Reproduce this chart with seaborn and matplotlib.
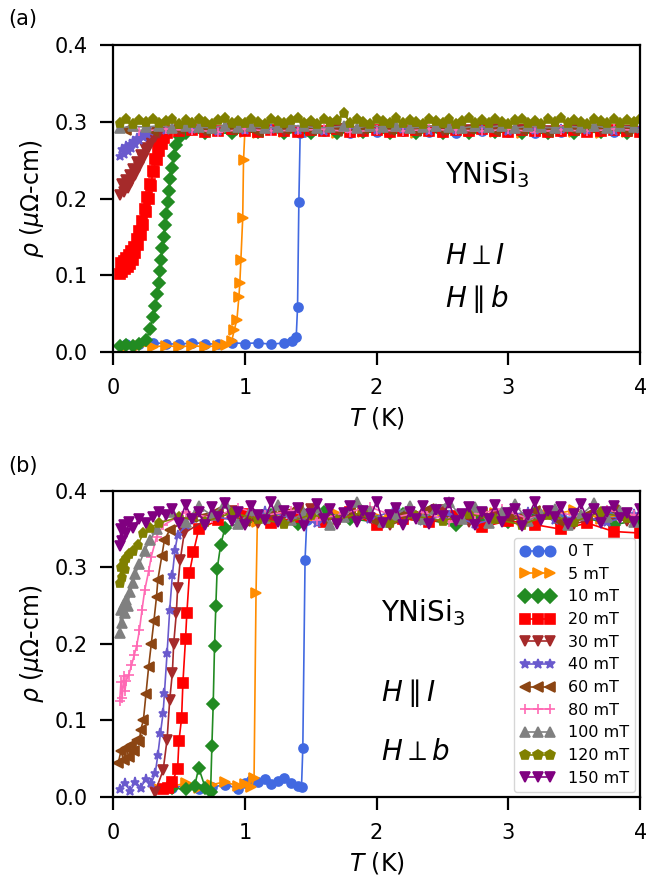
import matplotlib
matplotlib.use("Agg")
import matplotlib.pyplot as plt
import seaborn as sns

# field labels, colours and markers (same for both panels)
FIELDS = ['0 T', '5 mT', '10 mT', '20 mT', '30 mT', '40 mT',
          '60 mT', '80 mT', '100 mT', '120 mT', '150 mT']
COLORS = ['royalblue', 'darkorange', 'forestgreen', 'red', 'brown',
          'slateblue', 'saddlebrown', 'hotpink', 'gray', 'olive', 'purple']
MARKERS = ['o', '>', 'D', 's', 'v', '*', '<', '+', '^', 'p', 'v']

# ---------------- panel (a): H perp I, H || b ----------------
A_T_0 = [0.1, 0.2, 0.3, 0.4, 0.5, 0.6, 0.7, 0.8, 0.9, 1.0, 1.1, 1.2, 1.3,
         1.36, 1.39, 1.40, 1.41, 1.42, 1.45,
         1.6, 1.8, 2.0, 2.2, 2.4, 2.6, 2.8, 3.0, 3.2, 3.4, 3.6, 3.8, 4.0]
A_R_0 = [0.011, 0.010, 0.012, 0.011, 0.010, 0.012, 0.011, 0.010, 0.012, 0.011,
         0.012, 0.010, 0.012,
         0.014, 0.020, 0.058, 0.196, 0.286, 0.287,
         0.288, 0.286, 0.287, 0.288, 0.287, 0.286, 0.288, 0.287, 0.286, 0.287,
         0.288, 0.287, 0.287]

A_T_5 = [0.1, 0.2, 0.3, 0.4, 0.5, 0.6, 0.7, 0.8,
         0.86, 0.9, 0.92, 0.94, 0.955, 0.962, 0.97, 0.984, 0.99, 1.0,
         1.1, 1.3, 1.5, 1.7, 1.9, 2.1, 2.3, 2.5, 2.7, 2.9, 3.1, 3.3, 3.5, 3.7, 3.9]
A_R_5 = [0.007, 0.008, 0.007, 0.008, 0.007, 0.008, 0.007, 0.008,
         0.009, 0.014, 0.029, 0.042, 0.072, 0.090, 0.120, 0.175, 0.250, 0.287,
         0.286, 0.287, 0.288, 0.286, 0.287, 0.288, 0.286, 0.287, 0.288, 0.287,
         0.286, 0.288, 0.287, 0.286, 0.287]

A_T_10 = [0.05, 0.1, 0.15, 0.2, 0.25,
          0.28, 0.30, 0.32, 0.335, 0.345, 0.355, 0.365, 0.375, 0.385, 0.395,
          0.405, 0.415, 0.425, 0.435, 0.445, 0.46, 0.48, 0.51, 0.55,
          0.7, 0.9, 1.1, 1.3, 1.5, 1.7, 1.9, 2.1, 2.3, 2.5, 2.7, 2.9, 3.1, 3.3,
          3.5, 3.7, 3.9]
A_R_10 = [0.008, 0.009, 0.008, 0.010, 0.015,
          0.030, 0.045, 0.060, 0.075, 0.090, 0.105, 0.120, 0.135, 0.150, 0.165,
          0.180, 0.195, 0.210, 0.225, 0.240, 0.255, 0.270, 0.280, 0.285,
          0.286, 0.285, 0.287, 0.286, 0.285, 0.286, 0.287, 0.285, 0.286, 0.286,
          0.285, 0.287, 0.286, 0.285, 0.286, 0.287, 0.285]

A_T_20 = [0.05, 0.06, 0.07, 0.08, 0.09, 0.10, 0.11, 0.12, 0.13, 0.14, 0.15,
          0.16, 0.17, 0.18, 0.19, 0.20, 0.21, 0.22, 0.23, 0.24, 0.25, 0.26,
          0.27, 0.28, 0.29, 0.30, 0.31, 0.32, 0.33, 0.34, 0.35, 0.36, 0.37,
          0.38, 0.39, 0.40, 0.41,
          0.5, 0.6, 0.7, 0.8, 0.9, 1.0, 1.1, 1.2, 1.3, 1.4, 1.5, 1.6, 1.7, 1.8,
          1.9, 2.0, 2.1, 2.2, 2.3, 2.4, 2.5, 2.6, 2.7, 2.8, 2.9, 3.0, 3.1, 3.2,
          3.3, 3.4, 3.5, 3.6, 3.7, 3.8, 3.9, 4.0]
A_R_20 = [0.101, 0.116, 0.104, 0.119, 0.108, 0.122, 0.111, 0.126, 0.115, 0.131,
          0.120, 0.137, 0.129, 0.147, 0.140, 0.158, 0.152, 0.171, 0.166, 0.186,
          0.182, 0.202, 0.199, 0.219, 0.216, 0.236, 0.234, 0.252, 0.250, 0.266,
          0.262, 0.276, 0.271, 0.283, 0.279, 0.288, 0.285,
          0.288, 0.289, 0.287, 0.288, 0.290, 0.288, 0.287, 0.289, 0.288, 0.287,
          0.289, 0.288, 0.290, 0.287, 0.288, 0.289, 0.287, 0.288, 0.289, 0.288,
          0.287, 0.289, 0.288, 0.290, 0.288, 0.287, 0.289, 0.288, 0.287, 0.288,
          0.289, 0.287, 0.288, 0.289, 0.288, 0.287]

A_T_30 = [0.05, 0.065, 0.08, 0.095, 0.11, 0.125, 0.14, 0.155, 0.17, 0.185,
          0.20, 0.215, 0.23, 0.245, 0.26, 0.275, 0.29, 0.305, 0.32, 0.335, 0.35,
          0.5, 0.7, 0.9, 1.1, 1.3, 1.5, 1.7, 1.9, 2.1, 2.3, 2.5, 2.7, 2.9, 3.1,
          3.3, 3.5, 3.7, 3.9]
A_R_30 = [0.205, 0.219, 0.209, 0.224, 0.214, 0.230, 0.221, 0.238, 0.230, 0.248,
          0.241, 0.257, 0.252, 0.266, 0.262, 0.275, 0.272, 0.282, 0.280, 0.287,
          0.286,
          0.289, 0.288, 0.290, 0.289, 0.288, 0.289, 0.290, 0.288, 0.289, 0.290,
          0.288, 0.289, 0.290, 0.289, 0.288, 0.290, 0.289, 0.288]

A_T_40 = [0.05, 0.065, 0.08, 0.095, 0.11, 0.125, 0.14, 0.155, 0.17, 0.185,
          0.20, 0.215, 0.23, 0.245, 0.26, 0.28,
          0.4, 0.6, 0.8, 1.0, 1.2, 1.4, 1.6, 1.8, 2.0, 2.2, 2.4, 2.6, 2.8, 3.0,
          3.2, 3.4, 3.6, 3.8, 4.0]
A_R_40 = [0.255, 0.265, 0.258, 0.268, 0.262, 0.271, 0.266, 0.275, 0.271, 0.279,
          0.276, 0.283, 0.280, 0.286, 0.284, 0.288,
          0.289, 0.290, 0.288, 0.289, 0.291, 0.289, 0.288, 0.290, 0.289, 0.291,
          0.288, 0.289, 0.290, 0.288, 0.289, 0.291, 0.289, 0.288, 0.290]

A_T_60 = [0.1, 0.3, 0.5, 0.7, 0.9, 1.1, 1.3, 1.5, 1.7, 1.9, 2.1, 2.3, 2.5, 2.7,
          2.9, 3.1, 3.3, 3.5, 3.7, 3.9]
A_R_60 = [0.289, 0.288, 0.290, 0.288, 0.289, 0.287, 0.290, 0.289, 0.288, 0.290,
          0.289, 0.288, 0.289, 0.290, 0.288, 0.289, 0.287, 0.289, 0.290, 0.288]

A_T_80 = [0.2, 0.4, 0.6, 0.8, 1.0, 1.2, 1.4, 1.6, 1.8, 2.0, 2.2, 2.4, 2.6, 2.8,
          3.0, 3.2, 3.4, 3.6, 3.8, 4.0]
A_R_80 = [0.288, 0.290, 0.289, 0.287, 0.290, 0.288, 0.289, 0.290, 0.287, 0.289,
          0.288, 0.290, 0.289, 0.288, 0.290, 0.287, 0.289, 0.288, 0.290, 0.289]

A_T_100 = [0.05, 0.15, 0.25, 0.35, 0.45, 0.55, 0.65, 0.75, 0.85, 0.95,
           1.05, 1.15, 1.25, 1.35, 1.45, 1.55, 1.65, 1.75, 1.85, 1.95,
           2.05, 2.15, 2.25, 2.35, 2.45, 2.55, 2.65, 2.75, 2.85, 2.95,
           3.05, 3.15, 3.25, 3.35, 3.45, 3.55, 3.65, 3.75, 3.85, 3.95]
A_R_100 = [0.292, 0.294, 0.293, 0.295, 0.292, 0.294, 0.293, 0.292, 0.295, 0.293,
           0.294, 0.292, 0.293, 0.295, 0.294, 0.292, 0.293, 0.294, 0.292, 0.295,
           0.293, 0.294, 0.292, 0.293, 0.295, 0.293, 0.292, 0.294, 0.293, 0.295,
           0.292, 0.294, 0.293, 0.292, 0.294, 0.293, 0.295, 0.292, 0.294, 0.293]

A_T_120 = [0.05, 0.10, 0.15, 0.20, 0.25, 0.30, 0.35, 0.40, 0.45, 0.50,
           0.55, 0.60, 0.65, 0.70, 0.75, 0.80, 0.85, 0.90, 0.95, 1.00,
           1.05, 1.10, 1.15, 1.20, 1.25, 1.30, 1.35, 1.40, 1.45, 1.50,
           1.55, 1.60, 1.65, 1.70, 1.75, 1.80, 1.85, 1.90, 1.95, 2.00,
           2.05, 2.10, 2.15, 2.20, 2.25, 2.30, 2.35, 2.40, 2.45, 2.50,
           2.55, 2.60, 2.65, 2.70, 2.75, 2.80, 2.85, 2.90, 2.95, 3.00,
           3.05, 3.10, 3.15, 3.20, 3.25, 3.30, 3.35, 3.40, 3.45, 3.50,
           3.55, 3.60, 3.65, 3.70, 3.75, 3.80, 3.85, 3.90, 3.95, 4.00]
A_R_120 = [0.299, 0.303, 0.297, 0.302, 0.300, 0.304, 0.298, 0.301, 0.303, 0.297,
           0.302, 0.299, 0.304, 0.300, 0.297, 0.302, 0.305, 0.299, 0.301, 0.298,
           0.303, 0.300, 0.297, 0.304, 0.301, 0.298, 0.302, 0.305, 0.299, 0.301,
           0.297, 0.303, 0.300, 0.302, 0.311, 0.298, 0.304, 0.300, 0.297, 0.303,
           0.301, 0.299, 0.305, 0.298, 0.302, 0.300, 0.297, 0.304, 0.301, 0.299,
           0.303, 0.297, 0.301, 0.305, 0.299, 0.302, 0.298, 0.304, 0.300, 0.297,
           0.302, 0.304, 0.299, 0.301, 0.297, 0.303, 0.300, 0.305, 0.298, 0.302,
           0.300, 0.297, 0.303, 0.301, 0.299, 0.304, 0.298, 0.302, 0.300, 0.303]

# ---------------- panel (b): H || I, H perp b ----------------
B_T_0 = [0.45, 0.55, 0.65, 0.75, 0.85, 0.95,
         1.0, 1.05, 1.1, 1.15, 1.2, 1.25, 1.3, 1.35, 1.4,
         1.43, 1.44, 1.457, 1.47,
         1.6, 1.8, 2.0, 2.2, 2.4, 2.6, 2.8, 3.0, 3.2, 3.4, 3.6, 3.8, 4.0]
B_R_0 = [0.012, 0.015, 0.010, 0.013, 0.016, 0.011,
         0.018, 0.022, 0.019, 0.024, 0.017, 0.021, 0.025, 0.018, 0.015,
         0.013, 0.064, 0.310, 0.362,
         0.366, 0.371, 0.362, 0.368, 0.374, 0.365, 0.370, 0.363, 0.372, 0.367,
         0.361, 0.369, 0.366]

B_T_5 = [0.35, 0.45, 0.55, 0.65, 0.75, 0.85, 0.95, 1.0, 1.05, 1.07, 1.085, 1.095,
         1.3, 1.5, 1.7, 1.9, 2.1, 2.3, 2.5, 2.7, 2.9, 3.1, 3.3, 3.5, 3.7, 3.9]
B_R_5 = [0.010, 0.014, 0.018, 0.012, 0.016, 0.020, 0.014, 0.017, 0.013, 0.025,
         0.267, 0.360,
         0.372, 0.365, 0.370, 0.376, 0.363, 0.369, 0.374, 0.366, 0.371, 0.362,
         0.368, 0.375, 0.364, 0.370]

B_T_10 = [0.45, 0.55, 0.62, 0.65, 0.70, 0.74, 0.75, 0.76, 0.77, 0.78, 0.79,
          0.817, 0.85,
          1.0, 1.2, 1.4, 1.6, 1.8, 2.0, 2.2, 2.4, 2.6, 2.8, 3.0, 3.2, 3.4, 3.6,
          3.8, 4.0]
B_R_10 = [0.012, 0.010, 0.015, 0.038, 0.012, 0.006, 0.067, 0.121, 0.197, 0.250,
          0.298, 0.330, 0.352,
          0.360, 0.368, 0.357, 0.372, 0.364, 0.359, 0.370, 0.362, 0.355, 0.366,
          0.360, 0.371, 0.358, 0.364, 0.356, 0.362]

B_T_20 = [0.38, 0.42, 0.45, 0.49, 0.50, 0.52, 0.53, 0.55, 0.56, 0.58, 0.61, 0.65,
          0.8, 1.0, 1.2, 1.4, 1.6, 1.8, 2.0, 2.2, 2.4, 2.6, 2.8, 3.0, 3.2, 3.4,
          3.6, 3.8, 4.0]
B_R_20 = [0.010, 0.012, 0.020, 0.037, 0.073, 0.103, 0.149, 0.207, 0.240, 0.293,
          0.320, 0.350,
          0.362, 0.370, 0.358, 0.366, 0.360, 0.372, 0.355, 0.364, 0.359, 0.367,
          0.353, 0.361, 0.356, 0.350, 0.358, 0.347, 0.345]

B_T_30 = [0.32, 0.38, 0.41, 0.43, 0.45, 0.46, 0.48, 0.49, 0.51, 0.54,
          0.7, 0.9, 1.1, 1.3, 1.5, 1.7, 1.9, 2.1, 2.3, 2.5, 2.7, 2.9, 3.1, 3.3,
          3.5, 3.7, 3.9]
B_R_30 = [0.007, 0.035, 0.075, 0.127, 0.162, 0.200, 0.240, 0.273, 0.310, 0.345,
          0.362, 0.374, 0.358, 0.368, 0.377, 0.361, 0.370, 0.356, 0.366, 0.375,
          0.360, 0.369, 0.363, 0.372, 0.357, 0.366, 0.361]

B_T_40 = [0.05, 0.09, 0.13, 0.17, 0.21, 0.25, 0.29, 0.32, 0.34, 0.36, 0.38, 0.39,
          0.41, 0.43, 0.45, 0.47, 0.49, 0.55,
          0.75, 0.95, 1.15, 1.35, 1.55, 1.75, 1.95, 2.15, 2.35, 2.55, 2.75, 2.95,
          3.15, 3.35, 3.55, 3.75, 3.95]
B_R_40 = [0.010, 0.018, 0.008, 0.020, 0.012, 0.024, 0.018, 0.031, 0.055, 0.084,
          0.110, 0.136, 0.188, 0.245, 0.290, 0.323, 0.342, 0.355,
          0.368, 0.360, 0.374, 0.365, 0.358, 0.371, 0.363, 0.376, 0.361, 0.369,
          0.357, 0.366, 0.373, 0.362, 0.368, 0.359, 0.370]

B_T_60 = [0.04, 0.06, 0.08, 0.10, 0.12, 0.14, 0.16, 0.18, 0.20, 0.21, 0.23, 0.25,
          0.27, 0.29, 0.31, 0.33, 0.34, 0.37, 0.39, 0.43,
          0.6, 0.8, 1.0, 1.2, 1.4, 1.6, 1.8, 2.0, 2.2, 2.4, 2.6, 2.8, 3.0, 3.2,
          3.4, 3.6, 3.8, 4.0]
B_R_60 = [0.045, 0.060, 0.048, 0.064, 0.052, 0.068, 0.060, 0.075, 0.072, 0.088,
          0.100, 0.135, 0.170, 0.200, 0.230, 0.262, 0.284, 0.315, 0.336, 0.349,
          0.366, 0.374, 0.361, 0.370, 0.378, 0.364, 0.372, 0.359, 0.368, 0.376,
          0.362, 0.371, 0.365, 0.374, 0.360, 0.369, 0.375, 0.366]

B_T_80 = [0.05, 0.06, 0.07, 0.08, 0.09, 0.10, 0.12, 0.14, 0.16, 0.18, 0.20, 0.22,
          0.24, 0.27, 0.29, 0.33, 0.38,
          0.55, 0.75, 0.95, 1.15, 1.35, 1.55, 1.75, 1.95, 2.15, 2.35, 2.55, 2.75,
          2.95, 3.15, 3.35, 3.55, 3.75, 3.95]
B_R_80 = [0.125, 0.150, 0.130, 0.158, 0.138, 0.152, 0.160, 0.172, 0.185, 0.198,
          0.218, 0.245, 0.270, 0.295, 0.314, 0.340, 0.355,
          0.372, 0.365, 0.378, 0.368, 0.374, 0.362, 0.371, 0.379, 0.366, 0.373,
          0.360, 0.370, 0.376, 0.364, 0.372, 0.367, 0.375, 0.369]

B_T_100 = [0.05, 0.06, 0.07, 0.08, 0.09, 0.10, 0.11, 0.13, 0.15, 0.17, 0.20,
           0.24, 0.28, 0.33,
           0.45, 0.55, 0.65, 0.75, 0.85, 0.95, 1.05, 1.15, 1.25, 1.35, 1.45,
           1.55, 1.65, 1.75, 1.85, 1.95, 2.05, 2.15, 2.25, 2.35, 2.45, 2.55,
           2.65, 2.75, 2.85, 2.95, 3.05, 3.15, 3.25, 3.35, 3.45, 3.55, 3.65,
           3.75, 3.85, 3.95]
B_R_100 = [0.215, 0.245, 0.228, 0.252, 0.240, 0.258, 0.250, 0.268, 0.280, 0.292,
           0.305, 0.322, 0.336, 0.350,
           0.372, 0.360, 0.380, 0.368, 0.384, 0.357, 0.375, 0.365, 0.382, 0.362,
           0.371, 0.378, 0.356, 0.366, 0.385, 0.374, 0.359, 0.369, 0.381, 0.363,
           0.376, 0.386, 0.364, 0.379, 0.358, 0.372, 0.383, 0.361, 0.370, 0.377,
           0.355, 0.368, 0.384, 0.366, 0.374, 0.360]

B_T_120 = [0.05, 0.06, 0.07, 0.08, 0.09, 0.10, 0.12, 0.15, 0.19, 0.23, 0.28, 0.35,
           0.5, 0.7, 0.9, 1.1, 1.3, 1.5, 1.7, 1.9, 2.1, 2.3, 2.5, 2.7, 2.9, 3.1,
           3.3, 3.5, 3.7, 3.9]
B_R_120 = [0.280, 0.300, 0.288, 0.308, 0.298, 0.312, 0.318, 0.322, 0.330, 0.345,
           0.352, 0.358,
           0.366, 0.360, 0.371, 0.364, 0.357, 0.369, 0.362, 0.373, 0.358, 0.367,
           0.361, 0.370, 0.363, 0.356, 0.368, 0.360, 0.372, 0.365]

B_T_150 = [0.05, 0.06, 0.07, 0.08, 0.10, 0.12, 0.15, 0.20, 0.25, 0.30, 0.35,
           0.40, 0.45, 0.50, 0.55, 0.60, 0.65, 0.70, 0.75, 0.80, 0.85,
           0.90, 0.95, 1.00, 1.05, 1.10, 1.15, 1.20, 1.25, 1.30, 1.35,
           1.40, 1.45, 1.50, 1.55, 1.60, 1.65, 1.70, 1.75, 1.80, 1.85,
           1.90, 1.95, 2.00, 2.05, 2.10, 2.15, 2.20, 2.25, 2.30, 2.35,
           2.40, 2.45, 2.50, 2.55, 2.60, 2.65, 2.70, 2.75, 2.80, 2.85,
           2.90, 2.95, 3.00, 3.05, 3.10, 3.15, 3.20, 3.25, 3.30, 3.35,
           3.40, 3.45, 3.50, 3.55, 3.60, 3.65, 3.70, 3.75, 3.80, 3.85,
           3.90, 3.95, 4.00]
B_R_150 = [0.328, 0.350, 0.335, 0.356, 0.345, 0.360, 0.352, 0.364, 0.358, 0.366,
           0.372,
           0.368, 0.377, 0.358, 0.382, 0.364, 0.372, 0.355, 0.379, 0.366, 0.384,
           0.361, 0.373, 0.356, 0.380, 0.369, 0.362, 0.385, 0.359, 0.374, 0.366,
           0.378, 0.354, 0.370, 0.383, 0.363, 0.376, 0.357, 0.371, 0.381, 0.360,
           0.374, 0.365, 0.386, 0.358, 0.369, 0.378, 0.355, 0.372, 0.363, 0.380,
           0.357, 0.375, 0.367, 0.384, 0.361, 0.370, 0.379, 0.356, 0.373, 0.364,
           0.382, 0.359, 0.371, 0.377, 0.354, 0.368, 0.385, 0.362, 0.374, 0.366,
           0.379, 0.357, 0.370, 0.383, 0.363, 0.376, 0.358, 0.372, 0.381, 0.365,
           0.371, 0.360, 0.377]

PANEL_A = [(A_T_0, A_R_0), (A_T_5, A_R_5), (A_T_10, A_R_10), (A_T_20, A_R_20),
           (A_T_30, A_R_30), (A_T_40, A_R_40), (A_T_60, A_R_60),
           (A_T_80, A_R_80), (A_T_100, A_R_100), (A_T_120, A_R_120)]
PANEL_B = [(B_T_0, B_R_0), (B_T_5, B_R_5), (B_T_10, B_R_10), (B_T_20, B_R_20),
           (B_T_30, B_R_30), (B_T_40, B_R_40), (B_T_60, B_R_60),
           (B_T_80, B_R_80), (B_T_100, B_R_100), (B_T_120, B_R_120),
           (B_T_150, B_R_150)]


def draw_panel(ax, curves, labelled):
    """Draw one rho(T) panel, one seaborn line per field."""
    for i, (T, R) in enumerate(curves):
        assert len(T) == len(R), FIELDS[i]
        sns.lineplot(x=T, y=R, ax=ax, color=COLORS[i], marker=MARKERS[i],
                     markersize=6.5, markeredgecolor=COLORS[i],
                     markeredgewidth=1.2, linewidth=1.2, sort=False,
                     estimator=None, legend=False,
                     label=FIELDS[i] if labelled else None)
    ax.set_xlim(0, 4)
    ax.set_ylim(0, 0.4)
    ax.set_xticks([0, 1, 2, 3, 4])
    ax.set_yticks([0.0, 0.1, 0.2, 0.3, 0.4])
    ax.set_xlabel(r'$T$ (K)', fontsize=17, labelpad=5)
    ax.set_ylabel(r'$\rho$ ($\mu\Omega$-cm)', fontsize=17, labelpad=6)
    ax.tick_params(labelsize=15, length=9.5, width=1.6, pad=9,
                   direction='out', colors='black')
    for sp in ax.spines.values():
        sp.set_linewidth(1.6)
        sp.set_color('black')


sns.set_style("ticks")
plt.rcParams['font.family'] = ['DejaVu Sans']
plt.rcParams['mathtext.fontset'] = 'dejavusans'
plt.rcParams['text.color'] = 'black'
plt.rcParams['axes.labelcolor'] = 'black'

fig = plt.figure(figsize=(6.46, 8.88), dpi=100)
ax_a = fig.add_axes([0.175, 0.6036, 0.816, 0.3457])
ax_b = fig.add_axes([0.175, 0.1025, 0.816, 0.3446])

draw_panel(ax_a, PANEL_A, False)
draw_panel(ax_b, PANEL_B, True)

ax_a.text(2.52, 0.22, r'YNiSi$_3$', fontsize=20)
ax_a.text(2.52, 0.115, r'$H\perp I$', fontsize=20)
ax_a.text(2.52, 0.058, r'$H\parallel b$', fontsize=20)
ax_b.text(2.03, 0.23, r'YNiSi$_3$', fontsize=20)
ax_b.text(2.03, 0.125, r'$H\parallel I$', fontsize=20)
ax_b.text(2.03, 0.048, r'$H\perp b$', fontsize=20)

fig.text(0.012, 0.972, '(a)', fontsize=15)
fig.text(0.012, 0.469, '(b)', fontsize=15)

ax_b.legend(loc='lower right', numpoints=3, fontsize=11.5, handlelength=2.2,
            labelspacing=0.48, borderaxespad=0.3, framealpha=0.8,
            markerscale=1.15)

fig.savefig('out.png', dpi=100)
